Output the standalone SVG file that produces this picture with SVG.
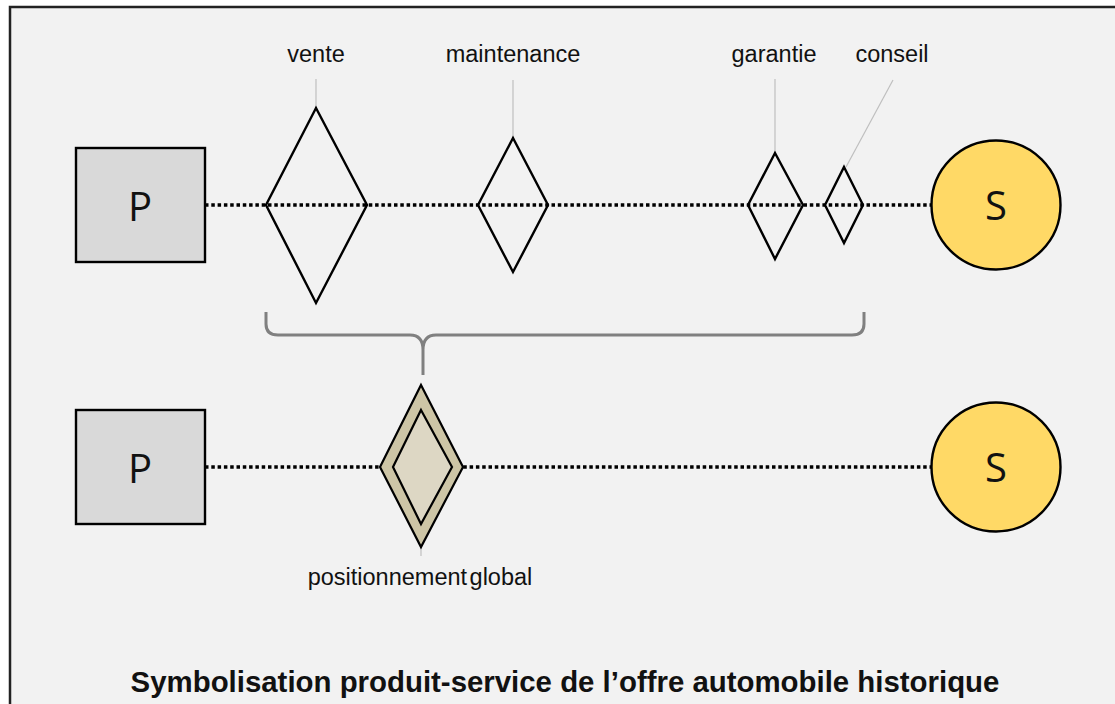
<svg xmlns="http://www.w3.org/2000/svg" width="1115" height="704" viewBox="0 0 1115 704">
<style>
.lbl{font-family:"Liberation Sans",Arial,sans-serif;font-size:23.5px;fill:#111;text-anchor:middle}
.big{font-family:"Open Sans","Liberation Sans",sans-serif;font-size:40px;fill:#111;text-anchor:middle}
.dot{stroke:#000;stroke-width:3.5;stroke-dasharray:3.5 2.8;fill:none}
.lead{stroke:#bfbfbf;stroke-width:1.2;fill:none}
.dia{fill:none;stroke:#000;stroke-width:2.4}
.box{fill:#d9d9d9;stroke:#000;stroke-width:2.4}
.circ{fill:#ffd966;stroke:#000;stroke-width:2.4}
</style>
<rect x="0" y="0" width="1115" height="704" fill="#fff"/>
<rect x="10" y="7" width="1115" height="710" fill="#f2f2f2" stroke="#222" stroke-width="2.5"/>
<g id="connectors">
<line class="dot" x1="205" y1="205" x2="932" y2="205"/>
<line class="dot" x1="205" y1="467" x2="932" y2="467"/>
<line class="lead" x1="316" y1="79" x2="316" y2="108"/>
<line class="lead" x1="513" y1="80" x2="513" y2="138"/>
<line class="lead" x1="775" y1="79" x2="775" y2="153"/>
<line class="lead" x1="893" y1="80" x2="846" y2="167"/>
<line class="lead" x1="421" y1="547" x2="421" y2="556"/>
<path d="M266 312 L266 324 Q266 335 278 335 L410 335 Q423 335 423 350 L423 375 M423 350 Q423 335 436 335 L852 335 Q864 335 864 324 L864 312" fill="none" stroke="#808080" stroke-width="3"/>
</g>
<g id="p1"><rect class="box" x="76" y="148" width="129" height="114"/><text class="big" x="140" y="221">P</text></g>
<g id="s1"><circle class="circ" cx="996" cy="205" r="64.5"/><text class="big" x="996" y="220">S</text></g>
<g id="vente"><polygon class="dia" points="316,108 367,205 316,303 266,205"/><text class="lbl" x="316" y="62">vente</text></g>
<g id="maintenance"><polygon class="dia" points="513,138 548,205 513,272 478,205"/><text class="lbl" x="513" y="62">maintenance</text></g>
<g id="garantie"><polygon class="dia" points="775,153 803,205 775,259 748,205"/><text class="lbl" x="774" y="62">garantie</text></g>
<g id="conseil"><polygon class="dia" points="844,167 863,205 844,243 825,205"/><text class="lbl" x="892" y="62">conseil</text></g>
<g id="p2"><rect class="box" x="76" y="410" width="129" height="114"/><text class="big" x="140" y="483">P</text></g>
<g id="s2"><circle class="circ" cx="996" cy="467" r="64.5"/><text class="big" x="996" y="482">S</text></g>
<g id="global">
<polygon points="421,385 463,467 421,547 380,467" fill="#cdc5a6" stroke="#000" stroke-width="2.2"/>
<polygon points="421,410 452,467 421,524 393,467" fill="#ddd7c4" stroke="#000" stroke-width="2.2"/>
<text class="lbl" x="420" y="585" word-spacing="-4">positionnement global</text>
</g>
<text x="565" y="692" font-family="Liberation Sans,Arial,sans-serif" font-size="29.4" font-weight="bold" fill="#111" text-anchor="middle">Symbolisation produit-service de l’offre automobile historique</text>
</svg>
